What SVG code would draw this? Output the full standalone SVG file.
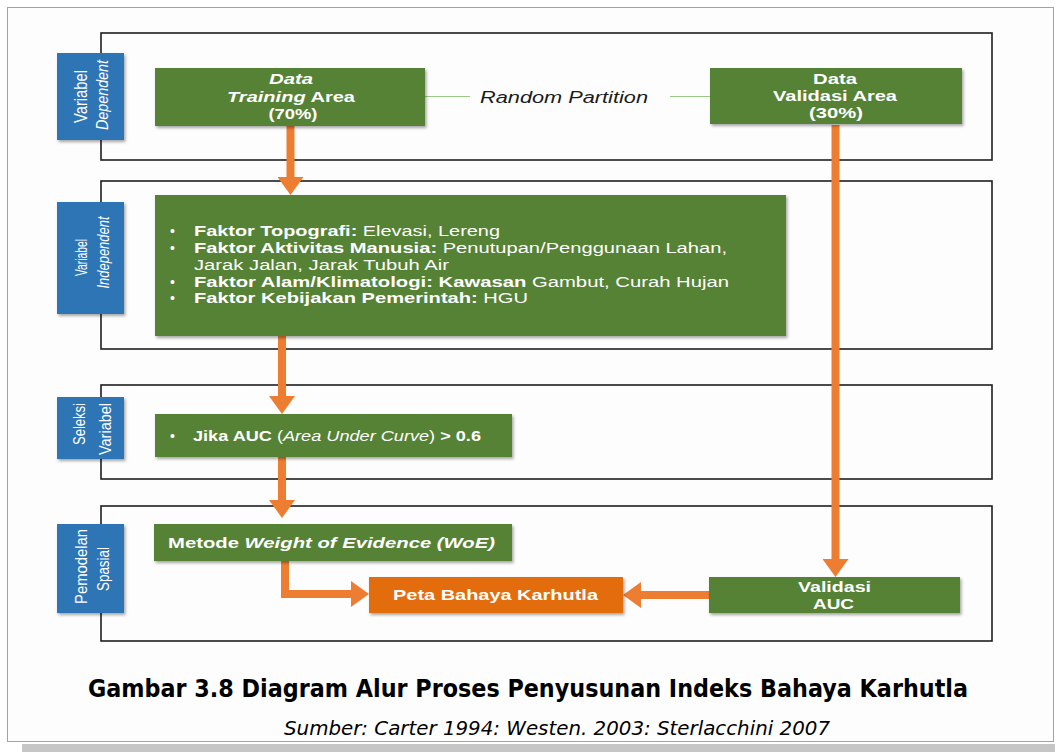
<svg xmlns="http://www.w3.org/2000/svg" width="1055" height="752" viewBox="0 0 1055 752">
  <defs>
    <style>
      .frame { fill: #fdfdfd; stroke: #a3a3a3; stroke-width: 1; }
      .band { fill: #c6c6c6; }
      .section { fill: none; stroke: #1e1e1e; stroke-width: 1.6; }
      .lbl { fill: #2e75b6; filter: url(#shadow); }
      .lbltxt { font-family: "Liberation Sans", Arial, sans-serif; fill: #ffffff; text-anchor: middle; }
      .green { fill: #548235; filter: url(#shadow); }
      .orange { fill: #e36c0a; filter: url(#shadow); }
      .wt { font-family: "Liberation Sans", Arial, sans-serif; fill: #ffffff; font-size: 14px; }
      .c { text-anchor: middle; }
      .b { font-weight: bold; }
      .i { font-style: italic; }
      .flow { fill: none; stroke: #ed7d31; stroke-width: 8; marker-end: url(#head); }
      .partition { stroke: #9cc98a; stroke-width: 1.2; fill: none; }
    </style>
    <filter id="shadow" x="-10%" y="-20%" width="130%" height="160%">
      <feDropShadow dx="1.5" dy="2" stdDeviation="1.6" flood-color="#000000" flood-opacity="0.35"/>
    </filter>
    <marker id="head" markerUnits="userSpaceOnUse" markerWidth="18" markerHeight="26" viewBox="0 0 18 26" refX="0" refY="13" orient="auto">
      <path d="M0,0 L18,13 L0,26 z" fill="#ed7d31"/>
    </marker>
  </defs>

  <!-- page frame -->
  <rect class="band" x="22" y="744" width="1033" height="8"/>
  <rect class="frame" x="7.5" y="7.5" width="1046" height="734"/>

  <!-- section outlines -->
  <g id="sections">
    <rect class="section" x="101" y="33" width="891" height="127"/>
    <rect class="section" x="101" y="181" width="891" height="168"/>
    <rect class="section" x="101" y="385" width="891" height="94"/>
    <rect class="section" x="101" y="506" width="891" height="135"/>
  </g>

  <!-- side labels -->
  <g id="label-dependent">
    <rect class="lbl" x="57" y="53" width="67" height="87"/>
    <text class="lbltxt" font-size="18" transform="translate(87,96.5) rotate(-90)" textLength="53" lengthAdjust="spacingAndGlyphs">Variabel</text>
    <text class="lbltxt i" font-size="17" transform="translate(108,95) rotate(-90)" textLength="70" lengthAdjust="spacingAndGlyphs">Dependent</text>
  </g>
  <g id="label-independent">
    <rect class="lbl" x="57" y="202" width="67" height="112"/>
    <text class="lbltxt" font-size="16" transform="translate(87,257.5) rotate(-90)" textLength="37" lengthAdjust="spacingAndGlyphs">Variabel</text>
    <text class="lbltxt i" font-size="16" transform="translate(109,252.5) rotate(-90)" textLength="72" lengthAdjust="spacingAndGlyphs">Independent</text>
  </g>
  <g id="label-seleksi">
    <rect class="lbl" x="57" y="397" width="67" height="62"/>
    <text class="lbltxt" font-size="16" transform="translate(85,424) rotate(-90)" textLength="42" lengthAdjust="spacingAndGlyphs">Seleksi</text>
    <text class="lbltxt" font-size="16" transform="translate(111,429) rotate(-90)" textLength="52" lengthAdjust="spacingAndGlyphs">Variabel</text>
  </g>
  <g id="label-pemodelan">
    <rect class="lbl" x="57" y="524" width="67" height="89"/>
    <text class="lbltxt" font-size="16" transform="translate(87,566.5) rotate(-90)" textLength="75" lengthAdjust="spacingAndGlyphs">Pemodelan</text>
    <text class="lbltxt" font-size="16" transform="translate(109,569) rotate(-90)" textLength="44" lengthAdjust="spacingAndGlyphs">Spasial</text>
  </g>

  <!-- connectors -->
  <g id="connectors">
    <path class="partition" d="M425,96.5 H470"/>
    <path class="partition" d="M670,96.5 H710"/>
    <text x="564" y="103" font-family="Liberation Sans, Arial, sans-serif" font-size="16" font-style="italic" fill="#1a1a1a" text-anchor="middle" textLength="168" lengthAdjust="spacingAndGlyphs">Random Partition</text>
    <path class="flow" d="M290.5,126 V177"/>
    <path class="flow" d="M282,336 V396"/>
    <path class="flow" d="M282,457 V500"/>
    <path class="flow" d="M285,561 V594 H351"/>
    <path class="flow" d="M835.5,125 V559"/>
    <path class="flow" d="M709,595 H641"/>
  </g>

  <!-- data partition nodes -->
  <g id="node-training">
    <rect class="green" x="155" y="68" width="270" height="58"/>
    <text class="wt c b i" x="291" y="84" font-size="13" textLength="44" lengthAdjust="spacingAndGlyphs">Data</text>
    <text class="wt c b" x="291" y="102" font-size="13" textLength="128" lengthAdjust="spacingAndGlyphs"><tspan class="i">Training</tspan> Area</text>
    <text class="wt c b" x="293" y="119" font-size="13" textLength="49" lengthAdjust="spacingAndGlyphs">(70%)</text>
  </g>
  <g id="node-validasi-area">
    <rect class="green" x="710" y="68" width="252" height="56"/>
    <text class="wt c b" x="835" y="84" font-size="13" textLength="44" lengthAdjust="spacingAndGlyphs">Data</text>
    <text class="wt c b" x="835" y="101" font-size="13" textLength="124" lengthAdjust="spacingAndGlyphs">Validasi Area</text>
    <text class="wt c b" x="836" y="118" font-size="13" textLength="54" lengthAdjust="spacingAndGlyphs">(30%)</text>
  </g>

  <!-- independent variables -->
  <g id="node-faktor">
    <rect class="green" x="155" y="195" width="631" height="141"/>
    <text class="wt" x="170" y="236">•</text>
    <text class="wt" x="194" y="236" textLength="306" lengthAdjust="spacingAndGlyphs"><tspan class="b">Faktor Topografi:</tspan> Elevasi, Lereng</text>
    <text class="wt" x="170" y="253">•</text>
    <text class="wt" x="194" y="253" textLength="533" lengthAdjust="spacingAndGlyphs"><tspan class="b">Faktor Aktivitas Manusia:</tspan> Penutupan/Penggunaan Lahan,</text>
    <text class="wt" x="194" y="270" textLength="255" lengthAdjust="spacingAndGlyphs">Jarak Jalan, Jarak Tubuh Air</text>
    <text class="wt" x="170" y="287">•</text>
    <text class="wt" x="194" y="287" textLength="535" lengthAdjust="spacingAndGlyphs"><tspan class="b">Faktor Alam/Klimatologi: Kawasan</tspan> Gambut, Curah Hujan</text>
    <text class="wt" x="170" y="303">•</text>
    <text class="wt" x="194" y="303" textLength="334" lengthAdjust="spacingAndGlyphs"><tspan class="b">Faktor Kebijakan Pemerintah:</tspan> HGU</text>
  </g>

  <!-- selection rule -->
  <g id="node-seleksi">
    <rect class="green" x="155" y="414" width="357" height="43"/>
    <text class="wt" x="170" y="441">•</text>
    <text class="wt" x="193" y="441" textLength="288" lengthAdjust="spacingAndGlyphs"><tspan class="b">Jika AUC</tspan> (<tspan class="i">Area Under Curve</tspan>) <tspan class="b">&gt; 0.6</tspan></text>
  </g>

  <!-- modelling -->
  <g id="node-woe">
    <rect class="green" x="154" y="524" width="358" height="37"/>
    <text class="wt b" x="168" y="548" textLength="327" lengthAdjust="spacingAndGlyphs">Metode <tspan class="i">Weight of Evidence (WoE)</tspan></text>
  </g>
  <g id="node-peta">
    <rect class="orange" x="369" y="577" width="254" height="36"/>
    <text class="wt b" x="393" y="600" textLength="205" lengthAdjust="spacingAndGlyphs">Peta Bahaya Karhutla</text>
  </g>
  <g id="node-validasi-auc">
    <rect class="green" x="709" y="577" width="251" height="36"/>
    <text class="wt c b" x="834.5" y="592" textLength="73" lengthAdjust="spacingAndGlyphs">Validasi</text>
    <text class="wt c b" x="833.5" y="609" textLength="41" lengthAdjust="spacingAndGlyphs">AUC</text>
  </g>

  <!-- caption -->
  <g id="caption">
    <text x="88" y="697" font-family="DejaVu Sans, Verdana, sans-serif" font-weight="bold" font-size="24" fill="#000000" textLength="880" lengthAdjust="spacingAndGlyphs">Gambar 3.8 Diagram Alur Proses Penyusunan Indeks Bahaya Karhutla</text>
    <text x="284" y="735" font-family="DejaVu Sans, Verdana, sans-serif" font-style="italic" font-size="20" fill="#000000" textLength="546" lengthAdjust="spacingAndGlyphs">Sumber: Carter 1994: Westen. 2003: Sterlacchini 2007</text>
  </g>
</svg>
